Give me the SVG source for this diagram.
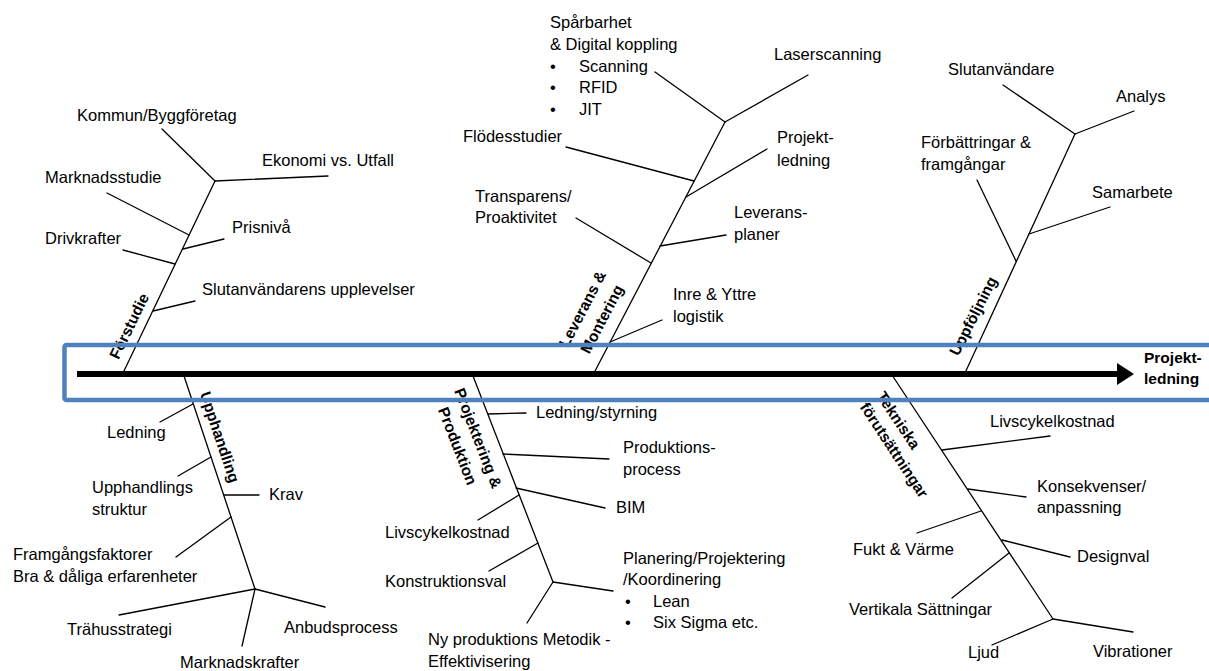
<svg xmlns="http://www.w3.org/2000/svg" width="1209" height="671" viewBox="0 0 1209 671">
<style>
  .bg{fill:#ffffff}
  .ln{stroke:#000;stroke-width:1.3;fill:none;stroke-linecap:round}
  .axis{stroke:#000;stroke-width:6;fill:none}
  .t{font-family:"Liberation Sans",Arial,sans-serif;font-size:16.5px;fill:#000}
  .b{font-family:"Liberation Sans",Arial,sans-serif;font-size:15.5px;font-weight:bold;fill:#000}
  .frame{fill:none;stroke:#4F81BD;stroke-width:4.5}
</style>
<defs>
  <marker id="ah" markerUnits="userSpaceOnUse" markerWidth="18" markerHeight="24" refX="2" refY="12" orient="auto">
    <path d="M0,1 L17,12 L0,23 Z" fill="#000"/>
  </marker>
</defs>
<rect class="bg" x="0" y="0" width="1209" height="671"/>

<g id="connectors">
  <!-- Förstudie -->
  <path class="ln" d="M123,373 L215,181"/>
  <path class="ln" d="M162,129 L215,181"/>
  <path class="ln" d="M215,181 L328,176"/>
  <path class="ln" d="M107,193 L189,235"/>
  <path class="ln" d="M183,249 L224,239"/>
  <path class="ln" d="M123,250 L175,264"/>
  <path class="ln" d="M153,311 L195,301"/>
  <!-- Upphandling -->
  <path class="ln" d="M184,376 L255,589"/>
  <path class="ln" d="M160,422 L193,404"/>
  <path class="ln" d="M178,476 L211,457"/>
  <path class="ln" d="M224,495 L259,495"/>
  <path class="ln" d="M176,557 L231,517"/>
  <path class="ln" d="M255,589 L119,615"/>
  <path class="ln" d="M255,589 L325,607"/>
  <path class="ln" d="M255,589 L242,646"/>
  <!-- Leverans & Montering -->
  <path class="ln" d="M594,373 L725,122"/>
  <path class="ln" d="M655,72 L725,122"/>
  <path class="ln" d="M725,122 L808,75"/>
  <path class="ln" d="M566,147 L694,181"/>
  <path class="ln" d="M767,149 L686,197"/>
  <path class="ln" d="M576,218 L651,263"/>
  <path class="ln" d="M726,235 L660,246"/>
  <path class="ln" d="M662,320 L610,342"/>
  <!-- Projektering & Produktion -->
  <path class="ln" d="M473,376 L553,582"/>
  <path class="ln" d="M488,414 L526,413"/>
  <path class="ln" d="M503,454 L609,459"/>
  <path class="ln" d="M516,488 L605,508"/>
  <path class="ln" d="M478,520 L519,495"/>
  <path class="ln" d="M489,571 L538,543"/>
  <path class="ln" d="M553,582 L613,591"/>
  <path class="ln" d="M553,582 L527,623"/>
  <!-- Uppföljning -->
  <path class="ln" d="M965,373 L1075,134"/>
  <path class="ln" d="M1003,85 L1075,134"/>
  <path class="ln" d="M1075,134 L1134,111"/>
  <path class="ln" d="M977,180 L1016,261"/>
  <path class="ln" d="M1110,207 L1029,234"/>
  <!-- Tekniska förutsättningar -->
  <path class="ln" d="M892,375 L1053,619"/>
  <path class="ln" d="M942,450 L1050,436"/>
  <path class="ln" d="M968,489 L1026,497"/>
  <path class="ln" d="M917,533 L981,511"/>
  <path class="ln" d="M1002,540 L1070,557"/>
  <path class="ln" d="M952,598 L1009,553"/>
  <path class="ln" d="M1053,619 L992,645"/>
  <path class="ln" d="M1053,619 L1133,632"/>
</g>

<g id="effect">
  <path class="axis" d="M77,374 L1119,374" marker-end="url(#ah)"/>
  <text class="b" font-size="15" x="1144" y="363">Projekt-</text>
  <text class="b" x="1144" y="384">ledning</text>
</g>

<g id="forstudie">
  <text class="b" transform="translate(129,326) rotate(-64)" text-anchor="middle" y="5.5">Förstudie</text>
  <text class="t" x="77" y="121">Kommun/Byggföretag</text>
  <text class="t" x="262" y="166">Ekonomi vs. Utfall</text>
  <text class="t" x="45" y="183">Marknadsstudie</text>
  <text class="t" x="232" y="233">Prisnivå</text>
  <text class="t" x="45" y="244">Drivkrafter</text>
  <text class="t" x="202" y="295">Slutanvändarens upplevelser</text>
</g>

<g id="upphandling">
  <text class="b" transform="translate(220,437) rotate(71.6)" text-anchor="middle" y="5.5">Upphandling</text>
  <text class="t" x="107" y="438">Ledning</text>
  <text class="t" x="92" y="493">Upphandlings</text>
  <text class="t" x="92" y="515">struktur</text>
  <text class="t" x="269" y="500">Krav</text>
  <text class="t" x="13" y="560">Framgångsfaktorer</text>
  <text class="t" x="13" y="582">Bra &amp; dåliga erfarenheter</text>
  <text class="t" x="67" y="635">Trähusstrategi</text>
  <text class="t" x="284" y="633">Anbudsprocess</text>
  <text class="t" x="180" y="668">Marknadskrafter</text>
</g>

<g id="leverans">
  <text class="b" transform="translate(592,314) rotate(-62.4)" text-anchor="middle"><tspan x="0" y="-5.5">Leverans &amp;</tspan><tspan x="0" y="16.5">Montering</tspan></text>
  <text class="t" x="550" y="28">Spårbarhet</text>
  <text class="t" x="550" y="50">&amp; Digital koppling</text>
  <text class="t" x="550" y="72">•</text><text class="t" x="579" y="72">Scanning</text>
  <text class="t" x="550" y="93">•</text><text class="t" x="579" y="93">RFID</text>
  <text class="t" x="550" y="115">•</text><text class="t" x="579" y="115">JIT</text>
  <text class="t" x="774" y="60">Laserscanning</text>
  <text class="t" x="463" y="142">Flödesstudier</text>
  <text class="t" x="777" y="143">Projekt-</text>
  <text class="t" x="777" y="166">ledning</text>
  <text class="t" x="475" y="202">Transparens/</text>
  <text class="t" x="475" y="223">Proaktivitet</text>
  <text class="t" x="734" y="218">Leverans-</text>
  <text class="t" x="734" y="240">planer</text>
  <text class="t" x="673" y="300">Inre &amp; Yttre</text>
  <text class="t" x="673" y="322">logistik</text>
</g>

<g id="projektering">
  <text class="b" transform="translate(468,442) rotate(68.8)" text-anchor="middle"><tspan x="0" y="-5.5">Projektering &amp;</tspan><tspan x="0" y="16.5">Produktion</tspan></text>
  <text class="t" x="536" y="418">Ledning/styrning</text>
  <text class="t" x="623" y="453">Produktions-</text>
  <text class="t" x="623" y="475">process</text>
  <text class="t" x="616" y="513">BIM</text>
  <text class="t" x="385" y="538">Livscykelkostnad</text>
  <text class="t" x="385" y="587">Konstruktionsval</text>
  <text class="t" x="623" y="564">Planering/Projektering</text>
  <text class="t" x="623" y="585">/Koordinering</text>
  <text class="t" x="625" y="607">•</text><text class="t" x="653" y="607">Lean</text>
  <text class="t" x="625" y="628">•</text><text class="t" x="653" y="628">Six Sigma etc.</text>
  <text class="t" x="428" y="645">Ny produktions Metodik -</text>
  <text class="t" x="428" y="667">Effektivisering</text>
</g>

<g id="uppfoljning">
  <text class="b" transform="translate(973,316) rotate(-63)" text-anchor="middle" y="5.5">Uppföljning</text>
  <text class="t" x="948" y="75">Slutanvändare</text>
  <text class="t" x="1116" y="102">Analys</text>
  <text class="t" x="921" y="148">Förbättringar &amp;</text>
  <text class="t" x="921" y="170">framgångar</text>
  <text class="t" x="1092" y="198">Samarbete</text>
</g>

<g id="tekniska">
  <text class="b" transform="translate(876,396) rotate(56.6)"><tspan x="0" y="0">Tekniska</tspan><tspan x="0" y="20">förutsättningar</tspan></text>
  <text class="t" x="990" y="427">Livscykelkostnad</text>
  <text class="t" x="1037" y="492">Konsekvenser/</text>
  <text class="t" x="1037" y="513">anpassning</text>
  <text class="t" x="853" y="555">Fukt &amp; Värme</text>
  <text class="t" x="1077" y="562">Designval</text>
  <text class="t" x="849" y="615">Vertikala Sättningar</text>
  <text class="t" x="968" y="658">Ljud</text>
  <text class="t" x="1093" y="657">Vibrationer</text>
</g>

<g id="frame">
  <rect class="frame" x="64.5" y="345" width="1200" height="55" rx="2"/>
</g>
</svg>
